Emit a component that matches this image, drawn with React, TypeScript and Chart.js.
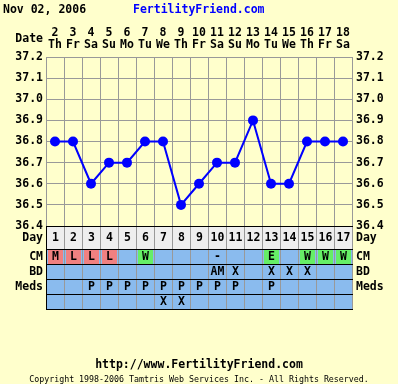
import React, { useEffect, useRef } from "react";
import { Chart, registerables } from "chart.js";

Chart.register(...registerables);

const dayNums = ["1","2","3","4","5","6","7","8","9","10","11","12","13","14","15","16","17"];
const dates = ["2","3","4","5","6","7","8","9","10","11","12","13","14","15","16","17","18"];
const weekdays = ["Th","Fr","Sa","Su","Mo","Tu","We","Th","Fr","Sa","Su","Mo","Tu","We","Th","Fr","Sa"];
const temps = [36.8, 36.8, 36.6, 36.7, 36.7, 36.8, 36.8, 36.5, 36.6, 36.7, 36.7, 36.9, 36.6, 36.6, 36.8, 36.8, 36.8];
const cmRow = ["M","L","L","L","","W","","","","-","","","E","","W","W","W"];
const bdRow = ["","","","","","","","","","AM","X","","X","X","X","",""];
const medsRow = ["","","P","P","P","P","P","P","P","P","P","","P","","","",""];
const extraRow = ["","","","","","","X","X","","","","","","","","",""];
const rowLabels = ["Day", "CM", "BD", "Meds", ""];
const titleDate = "Nov 02, 2006";
const titleSite = "FertilityFriend.com";
const footerUrl = "http://www.FertilityFriend.com";
const footerCopy = "Copyright 1998-2006 Tamtris Web Services Inc. - All Rights Reserved.";

const BG = "#ffffcc";
const GRID = "#999999";
const BLUE_CELL = "#8abbee";
const PINK = "#f08080";
const GREEN = "#66ee66";
const MONO = "'DejaVu Sans Mono', monospace";
const BOLD = "bold 11.5px " + MONO;

function cmColor(v: string): string | null {
  if (v === "M" || v === "L") return PINK;
  if (v === "W" || v === "E") return GREEN;
  return null;
}

const tablePlugin = {
  id: "tablePlugin",
  beforeDraw(chart: any) {
    const ctx = chart.ctx;
    ctx.save();
    ctx.fillStyle = BG;
    ctx.fillRect(0, 0, chart.width, chart.height);
    ctx.restore();
  },
  afterDraw(chart: any) {
    const ctx = chart.ctx;
    const xs = chart.scales.x;
    const area = chart.chartArea;
    const colW = xs.getPixelForValue(1) - xs.getPixelForValue(0);
    const left = area.left;
    const right = area.right;
    const top = area.bottom;
    const rowH = [23, 15, 15, 15, 15];
    const ys: number[] = [top];
    rowH.forEach((h) => ys.push(ys[ys.length - 1] + h));
    const rows = [dayNums, cmRow, bdRow, medsRow, extraRow];
    ctx.save();
    // backgrounds
    ctx.fillStyle = "#eeeeee";
    ctx.fillRect(left, ys[0], right - left, ys[1] - ys[0]);
    ctx.fillStyle = BLUE_CELL;
    ctx.fillRect(left, ys[1], right - left, ys[5] - ys[1]);
    // CM colored cells
    cmRow.forEach((v, i) => {
      const c = cmColor(v);
      if (!c) return;
      const cx = xs.getPixelForValue(i);
      ctx.fillStyle = c;
      ctx.fillRect(Math.round(cx - colW / 2) + 2, ys[1] + 1, Math.round(colW) - 3, ys[2] - ys[1] - 1);
    });
    // vertical grey lines
    ctx.strokeStyle = GRID;
    ctx.lineWidth = 1;
    for (let i = 0; i <= dayNums.length; i++) {
      const x = Math.round(xs.getPixelForValue(i) - colW / 2) + 0.5;
      ctx.beginPath();
      ctx.moveTo(x, ys[0]);
      ctx.lineTo(x, ys[5]);
      ctx.stroke();
    }
    // horizontal black lines
    ctx.strokeStyle = "#000000";
    ys.forEach((y) => {
      ctx.beginPath();
      ctx.moveTo(left, y + 0.5);
      ctx.lineTo(right + 1, y + 0.5);
      ctx.stroke();
    });
    ctx.beginPath();
    ctx.moveTo(Math.round(left) + 0.5, ys[0]);
    ctx.lineTo(Math.round(left) + 0.5, ys[5] + 1);
    ctx.stroke();
    // cell text
    ctx.fillStyle = "#000000";
    ctx.font = BOLD;
    ctx.textAlign = "center";
    ctx.textBaseline = "middle";
    rows.forEach((row, r) => {
      const cy = (ys[r] + ys[r + 1]) / 2 + 1;
      row.forEach((v, i) => {
        if (!v) return;
        ctx.fillText(v, xs.getPixelForValue(i) + 0.5, cy);
      });
    });
    // row labels
    rowLabels.forEach((lab, r) => {
      if (!lab) return;
      const cy = (ys[r] + ys[r + 1]) / 2 + 1;
      ctx.textAlign = "right";
      ctx.fillText(lab, left - 3, cy);
      ctx.textAlign = "left";
      ctx.fillText(lab, right + 4, cy);
    });
    // header
    ctx.textAlign = "left";
    ctx.fillText(titleDate, 3, 10);
    ctx.fillStyle = "#0000ff";
    ctx.fillText(titleSite, 133, 10);
    ctx.fillStyle = "#000000";
    ctx.textAlign = "right";
    ctx.fillText("Date", left - 3, 39);
    // footer
    ctx.textAlign = "center";
    ctx.fillText(footerUrl, chart.width / 2, 365);
    ctx.font = "8.3px " + MONO;
    ctx.fillText(footerCopy, chart.width / 2, 380);
    ctx.restore();
  },
};

export default function App() {
  const ref = useRef<HTMLCanvasElement | null>(null);
  useEffect(() => {
    document.body.style.margin = "0";
    const canvas = ref.current;
    if (!canvas) return;
    const tickFont = { family: MONO, size: 11.5, weight: "bold" as const, lineHeight: 1.05 };
    const chart = new Chart(canvas, {
      type: "line",
      data: {
        labels: dayNums,
        datasets: [
          {
            data: temps,
            borderColor: "#0000ff",
            backgroundColor: "#0000ff",
            borderWidth: 2,
            pointRadius: 5,
            pointBackgroundColor: "#0000ff",
            pointBorderColor: "#0000ff",
            pointBorderWidth: 0,
            tension: 0,
            clip: false as any,
          },
        ],
      },
      options: {
        responsive: false,
        animation: false,
        layout: { padding: { top: 0, left: 0, right: 0, bottom: 158 }, autoPadding: false },
        plugins: { legend: { display: false }, tooltip: { enabled: false }, title: { display: false } },
        scales: {
          x: {
            type: "category",
            position: "top",
            offset: true,
            grid: { offset: true, color: GRID, drawTicks: false },
            border: { color: GRID },
            afterFit: (s: any) => { s.height = 57; },
            ticks: {
              autoSkip: false,
              maxRotation: 0,
              padding: 6,
              color: "#000000",
              font: tickFont,
              callback: (_v: any, i: number) => [dates[i], weekdays[i]],
            },
          },
          y: {
            position: "left",
            min: 36.4,
            max: 37.2,
            grid: { color: GRID, drawTicks: false },
            border: { color: GRID },
            afterFit: (s: any) => { s.width = 46; },
            ticks: {
              stepSize: 0.1,
              padding: 3,
              color: "#000000",
              font: tickFont,
              callback: (v: any) => Number(v).toFixed(1),
            },
          },
          y2: {
            position: "right",
            min: 36.4,
            max: 37.2,
            grid: { drawOnChartArea: false, drawTicks: false },
            border: { color: GRID },
            afterFit: (s: any) => { s.width = 46; },
            ticks: {
              stepSize: 0.1,
              padding: 4,
              color: "#000000",
              font: tickFont,
              callback: (v: any) => Number(v).toFixed(1),
            },
          },
        },
      },
      plugins: [tablePlugin],
    } as any);
    return () => chart.destroy();
  }, []);
  return <canvas ref={ref} width={398} height={384} style={{ display: "block", width: 398, height: 384 }} />;
}
